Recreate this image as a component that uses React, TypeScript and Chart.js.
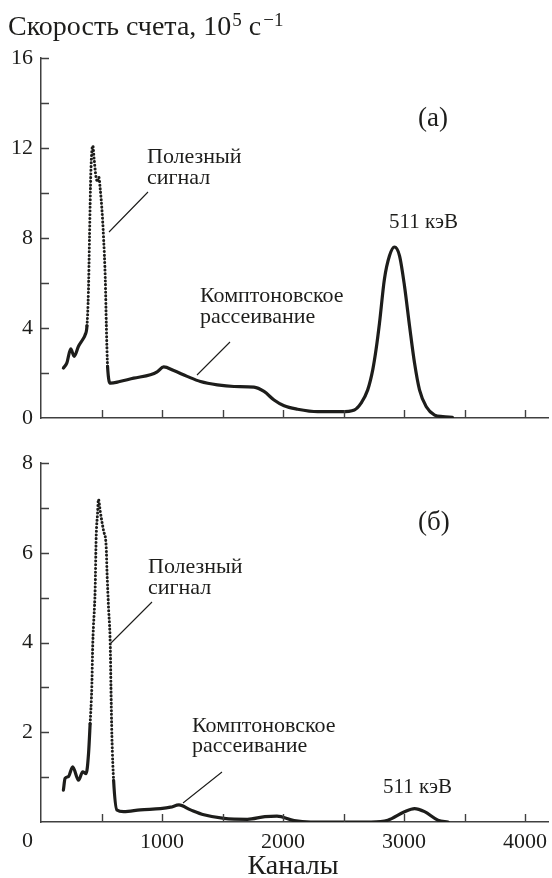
import React, { useEffect, useRef } from 'react';
import { Chart, registerables } from 'chart.js';

Chart.register(...registerables);

// ---------- data ----------
const X_MAX = 4190;
const X_TICK_MARKS = [500, 1000, 1500, 2000, 2500, 3000, 3500, 4000];
const X_TICK_LABELS = [1000, 2000, 3000, 4000];

// panel (а)
const CH_A = [185, 213, 246, 274, 310, 345, 365, 380, 392, 401, 412, 428, 439, 455, 468, 478, 489, 503, 517, 531,
  540, 550, 575, 650, 766, 904, 960, 1014, 1097, 1208, 1318, 1457, 1595, 1760, 1843, 1926, 2009, 2120, 2286, 2479,
  2590, 2645, 2700, 2742, 2769, 2797, 2838, 2880, 2921, 2963, 3004, 3046, 3087, 3128, 3184, 3253, 3320, 3400];
const RATE_A = [2.22, 2.44, 3.07, 2.74, 3.19, 3.49, 3.7, 4.1, 5.6, 8.0, 10.9, 12.1, 11.5, 10.7, 10.5, 10.7, 10.2, 9.3, 8.0, 6.2,
  4.1, 2.3, 1.55, 1.62, 1.77, 1.92, 2.05, 2.27, 2.11, 1.85, 1.62, 1.47, 1.40, 1.37, 1.18, 0.80, 0.54, 0.39, 0.28, 0.28,
  0.36, 0.66, 1.25, 2.15, 3.04, 4.2, 6.17, 7.21, 7.6, 7.21, 5.87, 4.08, 2.44, 1.25, 0.50, 0.13, 0.06, 0.03];
const Y_MAX_A = 16;
const Y_TICK_MARKS_A = [2, 4, 6, 8, 10, 12, 14, 16];
const Y_TICK_LABELS_A = [0, 4, 8, 12, 16];
const DOTTED_A = [375, 560];

// panel (б)
const CH_B = [185, 199, 226, 262, 310, 345, 373, 393, 406, 420, 428, 448, 456, 467, 475, 489, 503, 517, 539, 545,
  558, 572, 578, 586, 600, 627, 683, 821, 987, 1070, 1140, 1236, 1346, 1512, 1706, 1850, 1950, 2092, 2230, 2728,
  2866, 3004, 3087, 3170, 3281, 3364];
const RATE_B = [0.71, 0.97, 1.01, 1.23, 0.93, 1.12, 1.08, 1.53, 2.19, 3.0, 3.97, 5.23, 6.34, 6.86, 7.19, 6.93, 6.7, 6.49, 6.12, 5.6,
  4.78, 3.97, 3.0, 1.9, 0.93, 0.27, 0.23, 0.27, 0.30, 0.33, 0.38, 0.27, 0.16, 0.08, 0.06, 0.12, 0.13, 0.03, 0.0, 0.0,
  0.04, 0.23, 0.30, 0.23, 0.04, 0.0];
const Y_MAX_B = 8;
const Y_TICK_MARKS_B = [1, 2, 3, 4, 5, 6, 7, 8];
const Y_TICK_LABELS_B = [2, 4, 6, 8];
const DOTTED_B = [406, 600];

// ---------- styles ----------
const SERIF = '"Liberation Serif", "Times New Roman", Times, serif';
const INK = '#1d1d1b';
const AXIS = '#404040';
const TICK_LEN = 8;
const PAGE_W = 552;

type Txt = { text: string; x: number; y: number; size: number; align?: CanvasTextAlign };
type Leader = [number, number, number, number];

function overlayPlugin(cfg: {
  yMarks: number[];
  texts: Txt[];
  leaders: Leader[];
  title?: boolean;
  xLabels?: { y: number; size: number };
}) {
  return {
    id: 'overlay',
    afterDraw(chart: any) {
      const ctx = chart.ctx as CanvasRenderingContext2D;
      const { left, bottom } = chart.chartArea;
      const xs = chart.scales.x;
      const ys = chart.scales.y;
      ctx.save();
      ctx.strokeStyle = AXIS;
      ctx.lineWidth = 1.4;
      ctx.beginPath();
      for (const v of X_TICK_MARKS) {
        const px = Math.round(xs.getPixelForValue(v)) + 0.5;
        ctx.moveTo(px, bottom);
        ctx.lineTo(px, bottom - TICK_LEN);
      }
      for (const v of cfg.yMarks) {
        const py = Math.round(ys.getPixelForValue(v)) + 0.5;
        ctx.moveTo(left, py);
        ctx.lineTo(left + TICK_LEN, py);
      }
      ctx.stroke();

      ctx.strokeStyle = INK;
      ctx.lineWidth = 1.1;
      ctx.beginPath();
      for (const [x1, y1, x2, y2] of cfg.leaders) {
        ctx.moveTo(x1, y1);
        ctx.lineTo(x2, y2);
      }
      ctx.stroke();

      ctx.fillStyle = INK;
      ctx.textBaseline = 'middle';
      if (cfg.xLabels) {
        ctx.font = `${cfg.xLabels.size}px ${SERIF}`;
        ctx.textAlign = 'center';
        for (const v of X_TICK_LABELS) {
          ctx.fillText(String(v), xs.getPixelForValue(v), cfg.xLabels.y);
        }
      }
      for (const t of cfg.texts) {
        ctx.font = `${t.size}px ${SERIF}`;
        ctx.textAlign = t.align || 'left';
        ctx.fillText(t.text, t.x, t.y);
      }

      if (cfg.title) {
        const base = 35;
        ctx.textAlign = 'left';
        ctx.textBaseline = 'alphabetic';
        let x = 8;
        ctx.font = `28px ${SERIF}`;
        ctx.fillText('Скорость счета, 10', x, base);
        x += ctx.measureText('Скорость счета, 10').width + 1;
        ctx.font = `19px ${SERIF}`;
        ctx.fillText('5', x, base - 9);
        x += ctx.measureText('5').width + 7;
        ctx.font = `28px ${SERIF}`;
        ctx.fillText('с', x, base);
        x += ctx.measureText('с').width + 2;
        ctx.font = `19px ${SERIF}`;
        ctx.fillText('−1', x, base - 9);
      }
      ctx.restore();
    },
  };
}

type PanelProps = {
  top: number;
  height: number;
  padTop: number;
  xAxisHeight: number;
  channels: number[];
  rates: number[];
  yMax: number;
  yMarks: number[];
  yLabels: number[];
  dotted: number[];
  texts: Txt[];
  leaders: Leader[];
  title?: boolean;
  xLabels?: { y: number; size: number };
};

function Panel(p: PanelProps) {
  const ref = useRef<HTMLCanvasElement | null>(null);
  useEffect(() => {
    if (!ref.current) return;
    const data = p.channels.map((c, i) => ({ x: c, y: p.rates[i] }));
    const inDotted = (i: number) => p.channels[i] >= p.dotted[0] && p.channels[i] <= p.dotted[1];
    const chart = new Chart(ref.current, {
      type: 'line',
      data: {
        datasets: [
          {
            data,
            borderColor: INK,
            borderWidth: 3.2,
            pointRadius: 0,
            fill: false,
            cubicInterpolationMode: 'monotone',
            borderCapStyle: 'round',
            borderJoinStyle: 'round',
            segment: {
              borderDash: (c: any) => (inDotted(c.p0DataIndex) && inDotted(c.p1DataIndex) ? [0.1, 3.6] : undefined),
              borderWidth: (c: any) => (inDotted(c.p0DataIndex) && inDotted(c.p1DataIndex) ? 3 : undefined),
            },
          } as any,
        ],
      },
      options: {
        animation: false,
        responsive: false,
        maintainAspectRatio: false,
        events: [],
        layout: { padding: { top: p.padTop, right: 4, left: 0, bottom: 0 } },
        plugins: { legend: { display: false }, tooltip: { enabled: false }, title: { display: false } },
        scales: {
          x: {
            type: 'linear',
            min: 0,
            max: X_MAX,
            afterFit: (s: any) => { s.height = p.xAxisHeight; },
            grid: { color: 'rgba(0,0,0,0)', drawTicks: false, drawOnChartArea: false },
            border: { display: true, color: AXIS, width: 1.5 },
            ticks: { display: false },
          },
          y: {
            min: 0,
            max: p.yMax,
            afterFit: (s: any) => { s.width = 41; },
            grid: { color: 'rgba(0,0,0,0)', drawTicks: false, drawOnChartArea: false },
            border: { display: true, color: AXIS, width: 1.5 },
            ticks: {
              stepSize: 2,
              autoSkip: false,
              padding: 8,
              color: INK,
              font: { family: SERIF, size: 22 },
              callback: (v: any) => (p.yLabels.includes(Number(v)) ? String(v) : ''),
            },
          },
        },
      } as any,
      plugins: [overlayPlugin({ yMarks: p.yMarks, texts: p.texts, leaders: p.leaders, title: p.title, xLabels: p.xLabels })],
    });
    return () => chart.destroy();
  }, []);
  return (
    <canvas
      ref={ref}
      width={PAGE_W}
      height={p.height}
      style={{ position: 'absolute', left: 0, top: p.top, width: PAGE_W, height: p.height, display: 'block' }}
    />
  );
}

export default function App() {
  const botOff = 430;
  return (
    <div style={{ position: 'absolute', left: 0, top: 0, width: PAGE_W, height: 878, background: '#fff', overflow: 'hidden' }}>
      <Panel
        top={0}
        height={440}
        padTop={58}
        xAxisHeight={22}
        channels={CH_A}
        rates={RATE_A}
        yMax={Y_MAX_A}
        yMarks={Y_TICK_MARKS_A}
        yLabels={Y_TICK_LABELS_A}
        dotted={DOTTED_A}
        title
        texts={[
          { text: 'Полезный', x: 147, y: 157, size: 22 },
          { text: 'сигнал', x: 147, y: 178, size: 22 },
          { text: 'Комптоновское', x: 200, y: 296, size: 22 },
          { text: 'рассеивание', x: 200, y: 317, size: 22 },
          { text: '511 кэВ', x: 389, y: 222, size: 21 },
          { text: '(а)', x: 418, y: 119, size: 27 },
        ]}
        leaders={[
          [148, 192, 109, 232],
          [230, 342, 197, 375],
        ]}
      />
      <Panel
        top={botOff}
        height={448}
        padTop={33}
        xAxisHeight={56}
        channels={CH_B}
        rates={RATE_B}
        yMax={Y_MAX_B}
        yMarks={Y_TICK_MARKS_B}
        yLabels={Y_TICK_LABELS_B}
        dotted={DOTTED_B}
        xLabels={{ y: 842 - botOff, size: 22 }}
        texts={[
          { text: 'Полезный', x: 148, y: 567 - botOff, size: 22 },
          { text: 'сигнал', x: 148, y: 588 - botOff, size: 22 },
          { text: 'Комптоновское', x: 192, y: 726 - botOff, size: 22 },
          { text: 'рассеивание', x: 192, y: 746 - botOff, size: 22 },
          { text: '511 кэВ', x: 383, y: 787 - botOff, size: 21 },
          { text: '(б)', x: 418, y: 523 - botOff, size: 27 },
          { text: '0', x: 33, y: 841 - botOff, size: 22, align: 'right' },
          { text: 'Каналы', x: 293, y: 867 - botOff, size: 28, align: 'center' },
        ]}
        leaders={[
          [152, 602 - botOff, 111, 643 - botOff],
          [222, 772 - botOff, 183, 803 - botOff],
        ]}
      />
    </div>
  );
}
